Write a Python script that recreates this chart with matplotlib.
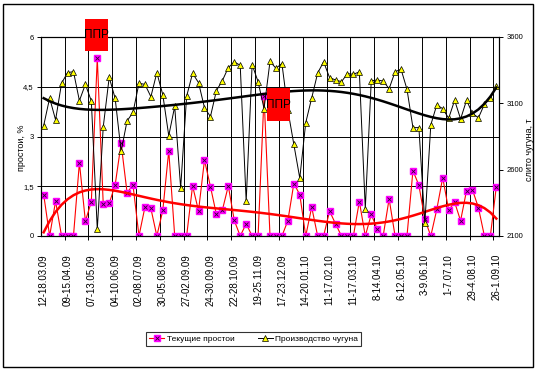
import numpy as np
import matplotlib
matplotlib.use('Agg')
import matplotlib.pyplot as plt
from matplotlib import font_manager
from matplotlib.patches import Rectangle
from matplotlib.lines import Line2D

# narrow font if there is one, the original looks like Arial Narrow
names = {f.name for f in font_manager.fontManager.ttflist}
font = 'Liberation Sans Narrow' if 'Liberation Sans Narrow' in names else 'Liberation Sans'
plt.rcParams['font.family'] = [font, 'DejaVu Sans']

# %%
# weekly data, 77 weeks
tick_labels = ['12-18.03.09', '09-15.04.09', '07-13.05.09', '04-10.06.09', '02-08.07.09',
               '30-05.08.09', '27-02.09.09', '24-30.09.09', '22-28.10.09', '19-25.11.09',
               '17-23.12.09', '14-20.01.10', '11-17.02.10', '11-17.03.10', '8-14.04.10',
               '6-12.05.10', '3-9.06.10', '1-7.07.10', '29-4.08.10', '26-1.09.10']

downtime = [1.25, 0, 1.05, 0, 0, 0, 2.21, 0.45, 1.03, 5.37,
            0.96, 0.98, 1.54, 2.79, 1.31, 1.53, 0, 0.87, 0.83, 0,
            0.77, 2.57, 0, 0, 0, 1.51, 0.76, 2.29, 1.49, 0.65,
            0.78, 1.51, 0.47, 0, 0.37, 0, 0, 4.22, 0, 0,
            0, 0.46, 1.58, 1.25, 0, 0.87, 0, 0, 0.75, 0.37,
            0, 0, 0, 1.04, 0, 0.65, 0.21, 0, 1.12, 0,
            0, 0, 1.97, 1.53, 0.5, 0, 0.8, 1.76, 0.78, 1.02,
            0.46, 1.37, 1.39, 0.85, 0, 0, 1.49]

production = [2932, 3140, 2975, 3251, 3331, 3339, 3120, 3243, 3118, 2150,
              2922, 3296, 3138, 2738, 2967, 3032, 3251, 3243, 3150, 3331,
              3165, 2856, 3077, 2462, 3153, 3326, 3256, 3067, 3000, 3196,
              3271, 3369, 3412, 3387, 2361, 3392, 3263, 3060, 3416, 3364,
              3400, 3050, 2791, 2536, 2954, 3140, 3328, 3413, 3294, 3276,
              3263, 3324, 3319, 3337, 2305, 3270, 3276, 3268, 3210, 3338,
              3357, 3206, 2917, 2917, 2197, 2938, 3088, 3060, 2987, 3123,
              2982, 3123, 3024, 2991, 3093, 3138, 3228]

series_names = ['Текущие простои', 'Производство чугуна']
ppr = 'ППР'

# %%
weeks = np.arange(len(downtime))

fig = plt.figure(figsize=(5.36, 3.72), dpi=100)
W, H = 536.0, 372.0
ax = fig.add_axes([40.7 / W, 1 - 236 / H, (499.3 - 40.7) / W, (236 - 37) / H])
ax2 = ax.twinx()

# downtime, left axis
ax.plot(weeks, downtime, color='red', lw=0.8, marker='s', ms=4.6,
        mfc='#FF00FF', mec='#FF00FF', zorder=3)
ax.plot(weeks, downtime, ls='none', marker='x', ms=2.8, mec='#330033', mew=0.6, zorder=4)
fit_d = np.polynomial.Polynomial.fit(weeks + 1, downtime, 6)
ax.plot(weeks, fit_d(weeks + 1), color='red', lw=1.8, zorder=5)

# production, right axis
ax2.plot(weeks, production, color='black', lw=0.7, marker='^', ms=4.6,
         mfc='#FFFF00', mec='black', mew=0.5, zorder=3)
fit_p = np.polynomial.Polynomial.fit(weeks + 1, production, 6)
ax2.plot(weeks, fit_p(weeks + 1), color='black', lw=1.8, zorder=4)

ax.set_xlim(-0.5, len(weeks) - 0.5)
ax.set_ylim(0, 6)
ax2.set_ylim(2100, 3600)

ax.set_yticks([0, 1.5, 3, 4.5, 6])
ax.set_yticklabels(['0', '1,5', '3', '4,5', '6'], fontsize=5.5)
ax2.set_yticks([2100, 2600, 3100, 3600])
ax2.set_yticklabels(['2100', '2600', '3100', '3600'], fontsize=5.5)

# gridlines between groups of 4 weeks, labels on every 4th week
ax.set_xticks(np.arange(3.5, len(weeks) - 1, 4))
ax.set_xticklabels([])
ax.set_xticks(np.arange(0, len(weeks), 4), minor=True)
ax.set_xticklabels(tick_labels, minor=True, rotation=90, fontsize=7)
ax.tick_params(axis='x', which='major', length=3, width=0.7, direction='out')
ax.tick_params(axis='x', which='minor', length=0, pad=13)
ax.tick_params(axis='y', length=3, width=0.7, pad=2)
ax2.tick_params(axis='y', length=3, width=0.7, pad=2)

ax.grid(True, which='major', color='black', lw=0.7)
for a in (ax, ax2):
    for s in a.spines.values():
        s.set_linewidth(0.8)

fig.text(22 / W, 1 - 148 / H, 'простои, %', rotation=90, ha='center', va='center', fontsize=6.5)
fig.text(529 / W, 1 - 150 / H, 'слито чугуна, т', rotation=90, ha='center', va='center', fontsize=6.5)

# ППР boxes
for x0, y0, w, h in [(85, 19, 23, 32), (267, 88, 23, 33)]:
    fig.patches.append(Rectangle((x0 / W, 1 - (y0 + h) / H), w / W, h / H,
                                 transform=fig.transFigure, fc='red', ec='none'))
    fig.text((x0 + w / 2) / W, 1 - (y0 + h / 2) / H, ppr, ha='center', va='center',
             fontsize=8.5, color='black')

# legend
h1 = (Line2D([], [], color='red', lw=0.8, marker='s', ms=4.6, mfc='#FF00FF', mec='#FF00FF'),
      Line2D([], [], ls='none', marker='x', ms=2.8, mec='#330033', mew=0.6))
h2 = Line2D([], [], color='black', lw=0.7, marker='^', ms=4.6, mfc='#FFFF00', mec='black', mew=0.5)
leg = fig.legend([h1, h2], series_names, loc='center', bbox_to_anchor=(253.5 / W, 1 - 339 / H),
                 ncol=2, fancybox=False, edgecolor='black', fontsize=6, handlelength=1.8,
                 columnspacing=2.8, borderpad=0.4, handletextpad=0.3)
leg.get_frame().set_linewidth(0.8)

# border of the chart area
fig.patches.append(Rectangle((2.7 / W, 1 - 367 / H), (533 - 2.7) / W, (367 - 4) / H,
                             transform=fig.transFigure, fill=False, ec='black', lw=1))

fig.savefig('out.png', dpi=100)
